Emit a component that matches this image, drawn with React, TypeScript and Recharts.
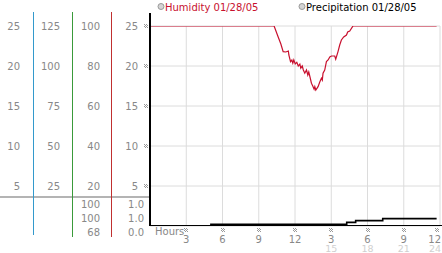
import { LineChart, Line, XAxis, YAxis, CartesianGrid } from "recharts";

const FONT = "DejaVu Sans";
const TICK_GRAY = "#888";
const RED = "#c8102e";

// x axis: hours of the day, 12h clock labels with 24h labels underneath
const hourTicks = [3, 6, 9, 12, 15, 18, 21, 24];
const hourLabels = ["3", "6", "9", "12", "3", "6", "9", "12"];
const hourLabels24 = ["", "", "", "", "15", "18", "21", "24"];

// left label columns
const col1Ticks = [5, 10, 15, 20, 25];
const col2Ticks = [25, 50, 75, 100, 125];
const humidityTicks = [20, 40, 60, 80, 100];
const mainTicks = [5, 10, 15, 20, 25];

// humidity (%) readings
const humidityHours = [
  0, 10.27, 10.6, 10.83, 11.02, 11.24, 11.45, 11.49, 11.63, 11.74, 11.82, 11.9,
  12.02, 12.15, 12.27, 12.4, 12.48, 12.6, 12.69, 12.81, 12.95, 13.06, 13.14,
  13.26, 13.36, 13.47, 13.58, 13.64, 13.72, 13.91, 14.05, 14.19, 14.26, 14.32,
  14.46, 14.6, 14.74, 14.88, 15.02, 15.29, 15.37, 15.56, 15.7, 15.84, 16.03,
  16.26, 16.36, 16.53, 16.8, 23.72,
];
const humidityValues = [
  100, 100, 94.6, 91, 87.2, 87, 87.5, 85.5, 82.2, 83, 81.4, 83, 81, 81.8, 80,
  81, 78.9, 80, 78, 76.4, 78, 75.5, 77, 74, 71.4, 70, 68.4, 69.7, 68, 69.7, 72,
  73.9, 73, 76.4, 78, 82.2, 83, 84.5, 85, 85, 83.4, 87.2, 90.5, 93, 94.5, 95.5,
  97, 97.5, 100, 100,
];

// accumulated precipitation
const precipHours = [0, 5.04, 16.28, 17.02, 19.26, 23.72];
const precipValues = [0, 0.2, 0.45, 0.67, 0.92, 0.92];

// max / current / min under the separator
const humidityStats = ["100", "100", "68"];
const precipStats = ["1.0", "1.0", "0.0"];

const humidityData = humidityHours.map((h, i) => ({ h, v: humidityValues[i] }));
const precipData = precipHours.map((h, i) => ({ h, v: precipValues[i] }));

// little dotted tick marker
function Hatch({ cx, cy }: { cx: number; cy: number }) {
  const cells = [];
  for (let i = 0; i < 4; i++) {
    for (let j = 0; j < 4; j++) {
      if ((i + j) % 2 === 0) {
        cells.push(
          <rect
            key={`${i}-${j}`}
            x={Math.round(cx - 2) + i}
            y={Math.round(cy - 2) + j}
            width={1}
            height={1}
            fill="#999"
          />
        );
      }
    }
  }
  return <g>{cells}</g>;
}

function YTick(props: any) {
  const { x, y, payload, dx, mark } = props;
  return (
    <g>
      <text
        x={x + dx}
        y={y}
        dy={3.6}
        textAnchor="end"
        fontSize={10}
        fontFamily={FONT}
        fill={TICK_GRAY}
      >
        {payload.value}
      </text>
      {mark && <Hatch cx={x - 4} cy={y} />}
    </g>
  );
}

function XTick(props: any) {
  const { x, y, payload } = props;
  const idx = hourTicks.indexOf(payload.value);
  const last = idx === hourTicks.length - 1;
  const tx = last ? x + 1 : x;
  const anchor = last ? "end" : "middle";
  return (
    <g>
      <Hatch cx={last ? x - 3 : x} cy={y + 4} />
      <text
        x={tx}
        y={y + 16.5}
        textAnchor={anchor}
        fontSize={10}
        fontFamily={FONT}
        fill={TICK_GRAY}
      >
        {hourLabels[idx]}
      </text>
      <text
        x={tx}
        y={y + 25.5}
        textAnchor={anchor}
        fontSize={9.5}
        fontFamily={FONT}
        fill="#d0d0d0"
      >
        {hourLabels24[idx]}
      </text>
    </g>
  );
}

const yAxisCommon = {
  type: "number" as const,
  axisLine: false,
  tickLine: false,
  tickSize: 0,
  tickMargin: 0,
  interval: 0 as const,
  allowDataOverflow: true,
};

export default function App() {
  return (
    <div
      style={{
        position: "absolute",
        left: 0,
        top: 0,
        width: 442,
        height: 253,
        background: "#fff",
        overflow: "hidden",
      }}
    >
      <LineChart
        width={442}
        height={253}
        margin={{ top: 26, right: 2, bottom: 0, left: 0 }}
      >
        <CartesianGrid yAxisId="a_main" stroke="#dcdcdc" />
        <XAxis
          dataKey="h"
          type="number"
          domain={[0, 24]}
          ticks={hourTicks}
          interval={0}
          tickSize={0}
          tickMargin={0}
          axisLine={false}
          tickLine={false}
          height={27}
          allowDataOverflow
          tick={(p: any) => <XTick {...p} />}
        />
        {/* left axes stack by id: a_ next to the plot, d_ at the far left */}
        <YAxis
          {...yAxisCommon}
          yAxisId="a_main"
          domain={[0, 25]}
          ticks={mainTicks}
          width={39}
          tick={(p: any) => <YTick {...p} dx={-12} mark />}
        />
        <YAxis
          {...yAxisCommon}
          yAxisId="b_hum"
          domain={[0, 100]}
          ticks={humidityTicks}
          width={39}
          tick={(p: any) => <YTick {...p} dx={-11} />}
        />
        <YAxis
          {...yAxisCommon}
          yAxisId="c_col2"
          domain={[0, 125]}
          ticks={col2Ticks}
          width={39}
          tick={(p: any) => <YTick {...p} dx={-12} />}
        />
        <YAxis
          {...yAxisCommon}
          yAxisId="d_col1"
          domain={[0, 25]}
          ticks={col1Ticks}
          width={33}
          tick={(p: any) => <YTick {...p} dx={-13} />}
        />
        <Line
          yAxisId="b_hum"
          data={humidityData}
          dataKey="v"
          type="linear"
          stroke={RED}
          strokeWidth={1.2}
          dot={false}
          isAnimationActive={false}
        />
        <Line
          yAxisId="a_main"
          data={precipData}
          dataKey="v"
          type="stepAfter"
          stroke="#000"
          strokeWidth={1.6}
          dot={false}
          isAnimationActive={false}
        />
      </LineChart>

      {/* frame lines, legend and summary values */}
      <svg
        width={442}
        height={253}
        style={{ position: "absolute", left: 0, top: 0, pointerEvents: "none" }}
      >
        <rect x={0} y={196} width={149} height={2} fill="#b4b4b4" />
        <rect x={33} y={12} width={1} height={223} fill="#3399cc" />
        <rect x={72} y={12} width={1} height={225} fill="#3a9a3a" />
        <rect x={111} y={12} width={1} height={225} fill="#c03030" />
        <rect x={149} y={13} width={2} height={213} fill="#000" />
        <rect x={149} y={225} width={293} height={1} fill="#000" />

        <circle cx={161} cy={6.5} r={3} fill="#d4d4d4" stroke="#999" />
        <text x={165} y={10.5} fontSize={10} fontFamily={FONT} fill={RED}>
          Humidity 01/28/05
        </text>
        <circle cx={302} cy={6.5} r={3} fill="#d4d4d4" stroke="#999" />
        <text x={306} y={10.5} fontSize={10} fontFamily={FONT} fill="#000">
          Precipitation 01/28/05
        </text>

        <text x={155} y={235} fontSize={10} fontFamily={FONT} fill={TICK_GRAY}>
          Hours
        </text>

        {humidityStats.map((s, i) => (
          <text
            key={`hs${i}`}
            x={100}
            y={207.6 + i * 14.2}
            textAnchor="end"
            fontSize={10}
            fontFamily={FONT}
            fill={TICK_GRAY}
          >
            {s}
          </text>
        ))}
        {precipStats.map((s, i) => (
          <text
            key={`ps${i}`}
            x={144}
            y={207.6 + i * 14.2}
            textAnchor="end"
            fontSize={10}
            fontFamily={FONT}
            fill={TICK_GRAY}
          >
            {s}
          </text>
        ))}
      </svg>
    </div>
  );
}
